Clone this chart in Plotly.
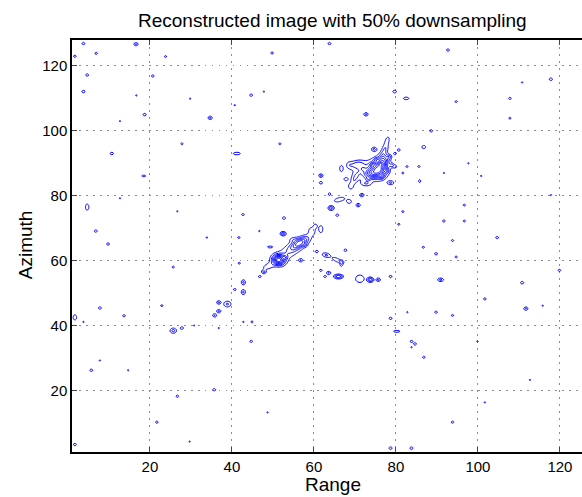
import numpy as np
import plotly.graph_objects as go

# ---- isolated point scatterers: range, azimuth, peak level
dot_x = [3.8, 16.6, 1.7, 6.9, 23.8, 49.8, 4.7, 20.7, 3.8, 16.7, 29.8, 44.7, 47.8, 40.7, 18.7, 12.7,
         34.7, 27.8, 51.7, 10.7, 61.7, 61.7, 12.7, 26.7, 42.7, 52.7, 6.8, 46.7, 9.8, 33.9, 41.7,
         63.8, 92.7, 117.8, 110.8, 79.7, 94.7, 107.8, 107.8, 72.7, 88.6, 86.8, 80.7, 79.8, 79.8,
         82.7, 85.6, 97.7, 81.7, 91.7, 100.8, 67.8, 71.7, 70.8, 65.7, 96.7, 81.7, 91.7, 96.7, 80.7,
         93.8, 104.7, 117.8, 60.7, 61.7, 62.7, 56.8, 25.7, 41.8, 47.8, 46.8, 40.7, 22.9, 36.8, 36.8,
         35.8, 7.8, 13.7, 3.8, 42.8, 44.9, 30.8, 27.8, 36.8, 44.7, 7.8, 5.7, 14.7, 35.7, 26.7, 48.7,
         21.7, 29.7, 1.7, 67.7, 63.6, 75.7, 78.7, 86.7, 89.8, 94.7, 110.8, 119.9, 101.7, 111.7,
         115.8, 82.8, 89.8, 93.8, 78.7, 83.8, 84.7, 83.8, 86.8, 99.9, 112.7, 101.7, 93.8, 78.7, 83.8]
dot_y = [126.9, 126.7, 123.0, 123.9, 122.9, 124.0, 117.2, 116.9, 112.1, 110.9, 109.9, 111.0, 112.1,
         107.9, 105.0, 103.0, 104.0, 96.0, 96.0, 93.0, 86.2, 84.0, 79.2, 75.2, 74.2, 73.1, 69.1, 69.1,
         65.1, 67.1, 67.1, 126.9, 124.9, 115.9, 114.9, 112.1, 109.0, 110.0, 103.9, 105.1, 100.0, 95.0,
         94.1, 93.0, 89.0, 89.0, 89.0, 90.0, 87.0, 87.0, 86.1, 85.1, 80.2, 77.1, 74.0, 77.1, 75.1,
         72.2, 72.2, 71.2, 66.2, 67.1, 80.2, 62.8, 57.0, 55.1, 60.1, 58.0, 59.2, 56.5, 55.1, 51.1,
         46.1, 47.1, 44.4, 43.1, 45.4, 43.0, 41.1, 41.1, 41.1, 40.0, 39.2, 39.2, 35.1, 29.2, 26.2,
         26.2, 20.2, 18.2, 13.2, 10.2, 4.2, 3.3, 63.2, 56.2, 54.1, 55.1, 64.1, 62.1, 61.1, 53.2, 57.0,
         48.2, 45.2, 46.1, 44.1, 44.1, 43.1, 42.2, 35.1, 34.3, 33.3, 30.2, 35.1, 23.2, 16.3, 10.2,
         2.2, 2.2]
dot_amp = [1.5, 2.2, 1.4, 1.4, 1.3, 1.4, 1.5, 1.4, 1.6, 1.15, 1.15, 1.5, 1.15, 1.15, 1.6, 1.15,
           2.3, 1.3, 1.3, 1.6, 2.4, 1.6, 1.15, 1.15, 1.4, 1.6, 1.5, 1.15, 1.5, 1.15, 1.3,
           1.5, 1.5, 1.6, 1.15, 1.8, 1.3, 1.4, 1.3, 2.3, 1.5, 2.0, 1.5, 1.4, 1.5,
           1.3, 1.3, 1.15, 1.3, 1.15, 1.15, 1.4, 2.3, 2.3, 1.5, 1.3, 1.3, 1.4, 1.3, 1.3,
           1.3, 1.5, 1.15, 1.5, 1.4, 1.4, 2.2, 1.3, 1.3, 2.3, 1.4, 1.4, 1.3, 2.3, 2.3,
           2.2, 1.5, 1.4, 1.15, 1.15, 1.3, 1.15, 1.6, 1.15, 1.4, 1.15, 1.5, 1.15, 1.5, 1.4, 1.15,
           1.4, 1.15, 1.5, 1.5, 2.2, 2.4, 1.5, 1.3, 1.5, 1.3, 1.6, 1.4, 1.4, 2.2,
           1.15, 1.15, 1.4, 1.3, 1.5, 1.4, 1.4, 1.15, 1.4, 1.15, 1.15, 1.15, 1.4, 1.6, 1.6]

# ---- extended / elongated returns and the two target clusters
blob_x = [41.2, 18.5, 4.7, 61.7, 82.5, 85.8, 78.7, 66.7, 49.3, 42.8, 42.8, 38.9, 1.7, 25.7,
          66.7, 66.0, 71.2, 73.8, 90.9, 80.2,
          # upper cluster
          72.8, 75.8, 77.0, 73.8, 77.3, 77.9, 74.7, 70.6, 68.6, 70.0, 69.0, 72.8, 79.0, 78.4,
          74.3, 76.6, 75.2, 77.8, 72.0, 73.2, 76.2,
          # middle piece
          64.2, 66.2, 68.6, 63.8,
          # lower cluster
          51.4, 56.6, 54.0, 48.8, 59.5, 52.5, 60.4, 55.0, 53.0, 57.8, 63.0, 65.6, 66.8]
blob_y = [93.0, 86.1, 76.5, 69.7, 110.0, 84.5, 84.0, 88.4, 64.2, 53.3, 50.3, 46.6, 42.5, 38.4,
          58.8, 55.1, 54.4, 54.1, 54.1, 38.2,
          87.8, 88.0, 90.8, 86.8, 94.3, 97.2, 94.3, 89.6, 89.5, 85.3, 82.8, 83.8, 89.4, 92.0,
          89.6, 85.8, 91.2, 87.6, 88.2, 85.2, 89.8,
          76.2, 78.8, 78.2, 80.5,
          60.2, 65.5, 62.8, 58.2, 69.2, 68.3, 70.7, 66.5, 61.0, 64.8, 61.7, 60.2, 59.6]
blob_amp = [1.8, 1.4, 2.0, 2.0, 1.8, 1.4, 2.3, 1.8, 1.5, 2.3, 2.3, 2.2, 2.0, 2.4,
            1.6, 4.0, 1.7, 4.0, 2.3, 1.6,
            1.7, 7.5, 4.0, 3.5, 2.0, 1.3, 2.3, 2.2, 1.2, 1.5, 1.3, 1.8, 1.8, 2.0,
            1.6, 1.6, 1.5, 1.5, 1.5, 1.4, 1.4,
            3.2, 1.6, 1.5, 1.3,
            7.0, 5.0, 1.8, 1.5, 1.6, 3.2, 1.4, 1.2, 1.5, 1.5, 2.2, 1.9, 1.4]
blob_sx = [0.8, 0.6, 0.35, 0.4, 0.6, 0.3, 0.6, 0.35, 0.7, 0.4, 0.4, 0.7, 0.35, 0.6,
           0.3, 0.75, 1.0, 0.5, 0.55, 0.8,
           3.2, 1.3, 0.9, 1.1, 1.8, 0.9, 0.5, 1.2, 0.6, 1.5, 0.5, 0.9, 0.4, 0.4,
           0.4, 0.4, 0.4, 0.4, 0.4, 0.4, 0.4,
           0.5, 1.3, 0.6, 0.4,
           1.0, 1.8, 3.0, 1.2, 0.7, 0.5, 0.4, 0.8, 0.4, 0.4, 0.8, 1.0, 0.4]
blob_sy = [0.35, 0.3, 0.8, 0.9, 0.35, 0.6, 0.45, 0.8, 0.3, 0.6, 0.6, 0.7, 0.7, 0.6,
           0.6, 0.45, 1.1, 0.5, 0.4, 0.3,
           2.0, 1.7, 1.4, 1.0, 0.55, 0.35, 0.5, 0.9, 0.8, 0.5, 0.7, 0.6, 0.45, 0.45,
           0.4, 0.4, 0.4, 0.4, 0.4, 0.4, 0.4,
           0.5, 0.6, 0.6, 0.6,
           1.1, 0.85, 1.4, 0.7, 1.0, 0.45, 0.6, 0.6, 0.4, 0.4, 0.5, 0.45, 0.4]
blob_ang = [0, 0, 0, 0, 0, 0, 0, 0, 0, 0, 0, 0, 0, 0,
            0, 0, 0, 0, 0, 0,
            35, 0, 0, 0, 76, 76, 0, 10, 0, 70, 0, 0, 0, 0,
            0, 0, 0, 0, 0, 0, 0,
            0, 20, 0, 0,
            30, 41, 41, 30, 0, 0, 0, 0, 0, 0, -20, -30, 0]

x_ticks = [20, 40, 60, 80, 100, 120]
y_ticks = [20, 40, 60, 80, 100, 120]

# ---- build the image on a fine range/azimuth grid
gx = np.arange(1.0, 128.001, 0.25)
gy = np.arange(1.0, 128.001, 0.25)
X, Y = np.meshgrid(gx, gy)
Z = np.zeros_like(X)
for x0, y0, a in zip(dot_x, dot_y, dot_amp):
    Z += a * np.exp(-0.5 * (((X - x0) / 0.4) ** 2 + ((Y - y0) / 0.4) ** 2))
for x0, y0, a, sx, sy, ang in zip(blob_x, blob_y, blob_amp, blob_sx, blob_sy, blob_ang):
    t = np.deg2rad(ang)
    u = (X - x0) * np.cos(t) + (Y - y0) * np.sin(t)
    v = -(X - x0) * np.sin(t) + (Y - y0) * np.cos(t)
    Z += a * np.exp(-0.5 * ((u / sx) ** 2 + (v / sy) ** 2))
Z = np.round(Z, 3)

font = "Liberation Sans, Arial, Helvetica, sans-serif"

fig = go.Figure(go.Contour(
    x=gx, y=gy, z=Z,
    contours=dict(start=1, end=9, size=1, coloring="lines"),
    line=dict(width=1),
    colorscale=[[0, "#0000ff"], [1, "#0000ff"]],
    showscale=False, hoverinfo="skip",
))

axis_common = dict(
    ticks="inside", ticklen=5, tickwidth=1, tickcolor="#444",
    showline=True, linecolor="black", linewidth=1.5,
    showgrid=True, gridcolor="#8c8c8c", gridwidth=1, griddash="1.5px,5.5px",
    zeroline=False, tickfont=dict(family=font, size=15, color="black"),
)

fig.update_layout(
    width=582, height=497,
    margin=dict(l=72, r=0, t=40, b=45),
    paper_bgcolor="white", plot_bgcolor="white",
    xaxis=dict(range=[1, 125.39], tickvals=x_ticks, mirror="ticks", **axis_common),
    yaxis=dict(range=[1, 128], tickvals=y_ticks, mirror=False, **axis_common),
    showlegend=False,
    annotations=[
        dict(text="Reconstructed image with 50% downsampling", xref="paper", yref="paper",
             x=0.51, y=1.0485, xanchor="center", yanchor="middle", showarrow=False,
             font=dict(family=font, size=19, color="black")),
        dict(text="Range", xref="paper", yref="paper", x=0.512, y=-0.079,
             xanchor="center", yanchor="middle", showarrow=False,
             font=dict(family=font, size=19, color="black")),
        dict(text="Azimuth", xref="paper", yref="paper", x=-0.092, y=0.502,
             xanchor="center", yanchor="middle", showarrow=False, textangle=-90,
             font=dict(family=font, size=19, color="black")),
    ],
)

fig.write_html("out.html")
